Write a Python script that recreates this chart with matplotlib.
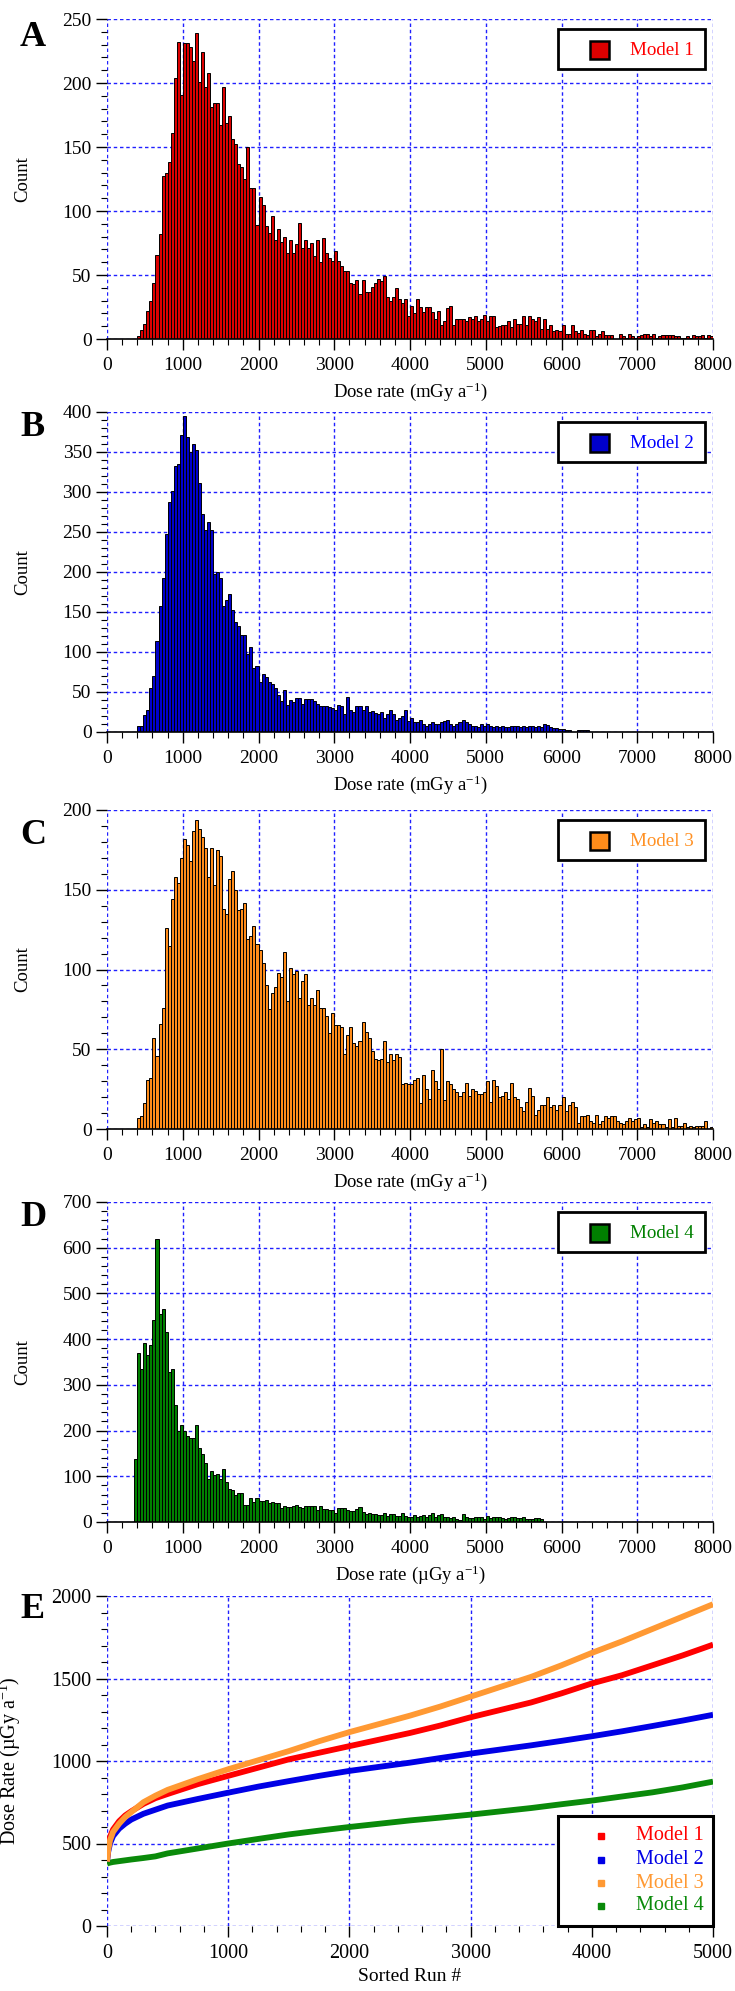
import numpy as np
import matplotlib
matplotlib.use("Agg")
import matplotlib.pyplot as plt
from matplotlib.patches import Rectangle

plt.rcParams['font.family'] = ['Liberation Serif', 'DejaVu Serif']
plt.rcParams['mathtext.default'] = 'regular'

# ---- histogram data (bin width 40) ----
bin_width = 40

model1_start = 400
model1_counts = [
    2, 7, 12, 22, 30, 44, 66, 82, 127, 130,
    138, 161, 204, 232, 191, 231, 231, 228, 217, 239,
    201, 224, 197, 208, 181, 184, 184, 167, 197, 169,
    174, 156, 152, 137, 134, 125, 150, 118, 118, 89,
    111, 105, 88, 83, 96, 77, 86, 76, 80, 67,
    77, 67, 74, 91, 71, 77, 71, 75, 65, 77,
    60, 79, 67, 63, 61, 69, 61, 57, 53, 53,
    44, 43, 46, 35, 46, 37, 37, 41, 44, 47,
    45, 49, 33, 30, 33, 40, 31, 28, 31, 18,
    26, 20, 31, 25, 21, 25, 25, 21, 16, 22,
    11, 14, 24, 26, 11, 16, 16, 16, 14, 17,
    16, 18, 14, 16, 19, 14, 18, 18, 9, 10,
    11, 11, 14, 9, 16, 12, 12, 18, 11, 18,
    16, 14, 17, 8, 16, 8, 11, 6, 7, 6,
    11, 4, 4, 11, 6, 5, 7, 4, 3, 7,
    7, 2, 4, 6, 3, 3, 3, 0, 0, 4,
    2, 1, 4, 2, 1, 2, 3, 4, 4, 2,
    4, 1, 2, 3, 3, 3, 3, 2, 2, 1,
    1, 2, 1, 3, 2, 2, 3, 1, 3, 2,
]

model2_start = 400
model2_counts = [
    7, 7, 21, 28, 55, 70, 114, 158, 193, 248,
    287, 301, 333, 335, 371, 395, 369, 350, 360, 353,
    311, 273, 253, 263, 252, 197, 200, 192, 158, 165,
    172, 152, 138, 132, 121, 121, 97, 106, 80, 83,
    62, 72, 69, 63, 60, 55, 46, 39, 53, 34,
    40, 38, 43, 43, 35, 41, 41, 41, 39, 35,
    32, 32, 32, 31, 30, 28, 34, 32, 22, 44,
    28, 25, 32, 33, 27, 32, 25, 26, 24, 22,
    25, 18, 22, 28, 23, 15, 18, 20, 28, 14,
    17, 12, 13, 15, 10, 8, 10, 12, 10, 10,
    12, 14, 15, 10, 8, 10, 12, 15, 12, 10,
    8, 8, 6, 10, 8, 10, 7, 6, 8, 6,
    8, 6, 6, 7, 8, 8, 6, 7, 6, 7,
    8, 6, 7, 6, 10, 9, 6, 5, 5, 4,
    4, 3, 3, 0, 0, 2, 2, 2, 2, 0,
]

model3_start = 400
model3_counts = [
    7, 8, 16, 31, 32, 57, 46, 66, 76, 126,
    115, 144, 158, 154, 170, 182, 178, 168, 187, 194,
    188, 183, 176, 158, 176, 153, 175, 171, 138, 135,
    157, 162, 150, 137, 138, 142, 119, 121, 127, 116,
    112, 104, 90, 75, 85, 89, 98, 95, 111, 80,
    101, 97, 99, 82, 93, 97, 78, 82, 78, 87,
    76, 76, 71, 60, 73, 65, 65, 64, 47, 59,
    64, 54, 52, 55, 67, 61, 57, 49, 44, 43,
    44, 55, 42, 47, 43, 47, 45, 28, 29, 28,
    28, 31, 32, 16, 34, 25, 19, 37, 30, 25,
    50, 18, 30, 28, 25, 23, 21, 23, 29, 21,
    25, 24, 22, 22, 23, 30, 17, 31, 27, 20,
    21, 23, 19, 29, 20, 19, 14, 11, 17, 26,
    21, 9, 12, 15, 15, 20, 14, 15, 12, 15,
    20, 11, 15, 17, 14, 4, 8, 8, 9, 5,
    4, 9, 3, 5, 8, 7, 8, 8, 5, 4,
    3, 5, 7, 5, 6, 7, 1, 3, 1, 6,
    4, 5, 3, 3, 1, 6, 1, 7, 2, 2,
    4, 1, 2, 1, 2, 2, 2, 5, 0, 1,
]

model4_start = 360
model4_counts = [
    137, 370, 335, 391, 366, 388, 442, 620, 455, 467,
    416, 328, 334, 256, 200, 213, 200, 189, 183, 184,
    213, 162, 149, 128, 95, 112, 102, 105, 95, 115,
    88, 73, 70, 60, 64, 64, 38, 38, 52, 44,
    53, 46, 46, 48, 41, 43, 41, 42, 30, 36,
    32, 32, 36, 37, 33, 30, 36, 36, 36, 36,
    26, 36, 28, 28, 27, 26, 19, 30, 31, 31,
    26, 25, 25, 28, 33, 22, 18, 20, 17, 18,
    16, 15, 20, 14, 17, 18, 13, 14, 20, 14,
    12, 12, 16, 12, 14, 15, 10, 15, 20, 12,
    15, 17, 12, 10, 8, 10, 6, 5, 17, 10,
    8, 8, 10, 10, 12, 7, 14, 9, 10, 10,
    10, 8, 6, 9, 10, 10, 8, 9, 10, 6,
    7, 7, 8, 8, 7,
]

# ---- sorted runs (panel E) ----
sorted_run = [0, 10, 25, 50, 100, 150, 200, 300, 400, 500, 750, 1000, 1250, 1500,
              1750, 2000, 2250, 2500, 2750, 3000, 3250, 3500, 3750, 4000, 4250,
              4500, 4750, 5000]
rate_model1 = [400, 480, 540, 585, 635, 670, 695, 740, 775, 800, 860, 910, 960, 1010,
               1050, 1090, 1130, 1170, 1215, 1265, 1310, 1355, 1410, 1470, 1520,
               1580, 1640, 1705]
rate_model2 = [390, 450, 500, 545, 590, 620, 645, 680, 705, 730, 770, 808, 845, 878,
               910, 940, 965, 990, 1018, 1045, 1070, 1095, 1122, 1150, 1180,
               1212, 1245, 1280]
rate_model3 = [390, 460, 520, 570, 620, 660, 690, 750, 790, 825, 890, 950, 1005, 1060,
               1120, 1175, 1225, 1275, 1330, 1390, 1450, 1510, 1580, 1655, 1725,
               1800, 1875, 1950]
rate_model4 = [378, 381, 384, 388, 393, 398, 403, 412, 422, 440, 470, 500, 528, 555,
               578, 600, 620, 640, 657, 675, 695, 715, 738, 760, 785, 810, 840, 875]

model_names = ['Model 1', 'Model 2', 'Model 3', 'Model 4']
bar_colors = ['#dc0000', '#0000cc', '#ff8c1a', '#007f00']
text_colors = ['#ff0000', '#0000ff', '#ff9124', '#008000']
line_colors = ['#ff0000', '#0000e6', '#ff9933', '#0a8a0a']

W, H = 735, 1991
AX_L, AX_W = 107, 606
tops = [19, 412, 810, 1202, 1596]
bottoms = [339, 732, 1129, 1522, 1926]
letters = ['A', 'B', 'C', 'D', 'E']
letter_y = [37, 428, 835, 1217, 1609]
GRID = dict(color='#2020ff', linestyle=(0, (2.5, 2)), linewidth=1.0)

fig = plt.figure(figsize=(W / 100, H / 100), dpi=100)


def make_axes(top, bottom):
    return fig.add_axes([AX_L / W, 1 - bottom / H, AX_W / W, (bottom - top) / H])


def style_axes(ax, fs):
    for s in ['top', 'right', 'left']:
        ax.spines[s].set_visible(False)
    ax.tick_params(which='major', direction='out', length=8, width=1, labelsize=fs)
    ax.tick_params(which='minor', direction='out', length=4, width=0.8)
    ax.tick_params(axis='x', which='major', pad=5)
    ax.tick_params(axis='y', which='major', pad=3)
    ax.grid(True, which='major', **GRID)
    ax.set_axisbelow(True)


hist_data = [(model1_start, model1_counts), (model2_start, model2_counts),
             (model3_start, model3_counts), (model4_start, model4_counts)]
ylims = [250, 400, 200, 700]
ymaj = [50, 50, 50, 100]
xlabels = ['Dose rate (mGy a$^{-1}$)', 'Dose rate (mGy a$^{-1}$)',
           'Dose rate (mGy a$^{-1}$)', 'Dose rate (\u00b5Gy a$^{-1}$)']

for i, (start, counts) in enumerate(hist_data):
    top, bottom = tops[i], bottoms[i]
    h = bottom - top
    ax = make_axes(top, bottom)
    edges = start + bin_width * np.arange(len(counts))
    ax.bar(edges, counts, width=bin_width, align='edge', color=bar_colors[i],
           edgecolor='black', linewidth=0.7, zorder=2)
    ax.set_xlim(0, 8000)
    ax.set_ylim(0, ylims[i])
    ax.set_xticks(np.arange(0, 8001, 1000))
    ax.set_xticks(np.arange(0, 8001, 200), minor=True)
    ax.set_yticks(np.arange(0, ylims[i] + 1, ymaj[i]))
    ax.set_yticks(np.arange(0, ylims[i] + 1, ymaj[i] / 5), minor=True)
    style_axes(ax, 14)
    ax.spines['bottom'].set_linewidth(1.2)
    ax.spines['bottom'].set_zorder(3)
    ax.set_xlabel(xlabels[i], fontsize=13.5)
    ax.xaxis.set_label_coords(0.5, -41 / h)
    ax.set_ylabel('Count', fontsize=13.5)
    ax.yaxis.set_label_coords((31 - AX_L) / AX_W, 0.5)

    # legend box
    fx = lambda px: (px - AX_L) / AX_W
    fy = lambda d: 1 - d / h
    ax.add_patch(Rectangle((fx(558), fy(50)), fx(705) - fx(558), fy(10) - fy(50),
                           transform=ax.transAxes, fc='white', ec='black', lw=2,
                           zorder=6, clip_on=False))
    ax.add_patch(Rectangle((fx(590), fy(40)), fx(609) - fx(590), fy(22) - fy(40),
                           transform=ax.transAxes, fc=bar_colors[i], ec='black',
                           lw=1.8, zorder=7, clip_on=False))
    ax.text(fx(630), fy(31), model_names[i], transform=ax.transAxes,
            color=text_colors[i], fontsize=13.7, va='center', ha='left', zorder=8)

# ---- panel E ----
top, bottom = tops[4], bottoms[4]
h = bottom - top
ax = make_axes(top, bottom)
rates = [rate_model1, rate_model2, rate_model3, rate_model4]
for i in [3, 1, 0, 2]:
    ax.plot(sorted_run, rates[i], color=line_colors[i], lw=4.2,
            solid_capstyle='butt', zorder=3)
ax.set_xlim(0, 5000)
ax.set_ylim(0, 2000)
ax.set_xticks(np.arange(0, 5001, 1000))
ax.set_xticks(np.arange(0, 5001, 200), minor=True)
ax.set_yticks(np.arange(0, 2001, 500))
ax.set_yticks(np.arange(0, 2001, 100), minor=True)
style_axes(ax, 14.5)
ax.spines['bottom'].set_visible(False)
ax.set_xlabel('Sorted Run #', fontsize=14)
ax.xaxis.set_label_coords(0.5, -42 / h)
ax.set_ylabel('Dose Rate (\u00b5Gy a$^{-1}$)', fontsize=14.5)
ax.yaxis.set_label_coords((23 - AX_L) / AX_W, 0.5)

fx = lambda px: (px - AX_L) / AX_W
fyb = lambda d: d / h  # px above bottom
ax.add_patch(Rectangle((fx(558), fyb(0)), fx(713) - fx(558), fyb(110),
                       transform=ax.transAxes, fc='white', ec='black', lw=2.2,
                       zorder=6, clip_on=False))
row_y = [90, 66, 43, 20]
for i in range(4):
    ax.plot([fx(601)], [fyb(row_y[i])], marker='s', ms=4, color=line_colors[i],
            transform=ax.transAxes, zorder=7, clip_on=False)
    ax.text(fx(636), fyb(row_y[i]), model_names[i], transform=ax.transAxes,
            color=line_colors[i], fontsize=14.5, va='center', ha='left', zorder=8)

for i, lt in enumerate(letters):
    fig.text(20 / W, 1 - letter_y[i] / H, lt, fontsize=26, fontweight='bold',
             va='center', ha='left')

fig.savefig('out.png', dpi=100)
